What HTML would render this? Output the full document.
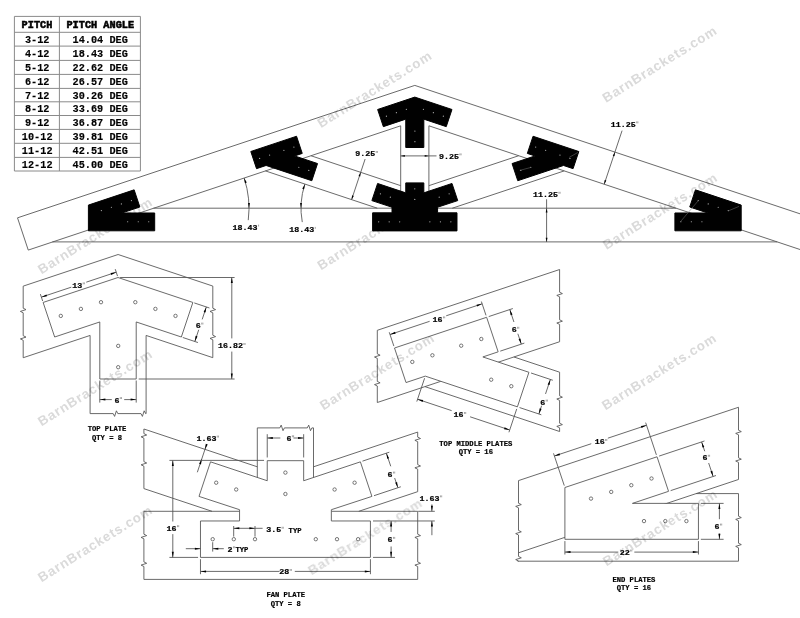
<!DOCTYPE html>
<html><head><meta charset="utf-8"><title>Truss plates</title>
<style>
html,body{margin:0;padding:0;background:#fff;}
body{width:800px;height:618px;overflow:hidden;font-family:"Liberation Sans",sans-serif;}
svg{display:block;}
</style></head><body>
<svg width="800" height="618" viewBox="0 0 800 618">
<rect width="800" height="618" fill="#fff"/>
<g opacity="0.999">
<g>
<path d="M14.4 16.4L140.4 16.4" stroke="#8a8a8a" stroke-width="1" fill="none"/>
<path d="M14.4 32.3L140.4 32.3" stroke="#8a8a8a" stroke-width="1" fill="none"/>
<path d="M14.4 46.1L140.4 46.1" stroke="#8a8a8a" stroke-width="1" fill="none"/>
<path d="M14.4 60.4L140.4 60.4" stroke="#8a8a8a" stroke-width="1" fill="none"/>
<path d="M14.4 74.4L140.4 74.4" stroke="#8a8a8a" stroke-width="1" fill="none"/>
<path d="M14.4 88.4L140.4 88.4" stroke="#8a8a8a" stroke-width="1" fill="none"/>
<path d="M14.4 101.8L140.4 101.8" stroke="#8a8a8a" stroke-width="1" fill="none"/>
<path d="M14.4 115.5L140.4 115.5" stroke="#8a8a8a" stroke-width="1" fill="none"/>
<path d="M14.4 129.4L140.4 129.4" stroke="#8a8a8a" stroke-width="1" fill="none"/>
<path d="M14.4 143.3L140.4 143.3" stroke="#8a8a8a" stroke-width="1" fill="none"/>
<path d="M14.4 157.4L140.4 157.4" stroke="#8a8a8a" stroke-width="1" fill="none"/>
<path d="M14.4 171L140.4 171" stroke="#8a8a8a" stroke-width="1" fill="none"/>
<path d="M14.4 16.4L14.4 171" stroke="#8a8a8a" stroke-width="1" fill="none"/>
<path d="M59.4 16.4L59.4 171" stroke="#8a8a8a" stroke-width="1" fill="none"/>
<path d="M140.4 16.4L140.4 171" stroke="#8a8a8a" stroke-width="1" fill="none"/>
<text transform="translate(21.62 27.7) scale(1 1.08)" font-family="'Liberation Mono', monospace" font-size="10.25" font-weight="bold" fill="#000" stroke="#000" stroke-width="0.55" textLength="30.75" lengthAdjust="spacing" xml:space="preserve">PITCH</text>
<text transform="translate(66.48 27.7) scale(1 1.08)" font-family="'Liberation Mono', monospace" font-size="10.25" font-weight="bold" fill="#000" stroke="#000" stroke-width="0.55" textLength="67.65" lengthAdjust="spacing" xml:space="preserve">PITCH ANGLE</text>
<text transform="translate(24.9 42.85) scale(1 1.08)" font-family="'Liberation Mono', monospace" font-size="10.25" font-weight="bold" fill="#000" stroke="#000" stroke-width="0.15" textLength="24.6" lengthAdjust="spacing" xml:space="preserve">3-12</text>
<text transform="translate(72.53 42.85) scale(1 1.08)" font-family="'Liberation Mono', monospace" font-size="10.25" font-weight="bold" fill="#000" stroke="#000" stroke-width="0.15" textLength="55.35" lengthAdjust="spacing" xml:space="preserve">14.04 DEG</text>
<text transform="translate(24.9 57.15) scale(1 1.08)" font-family="'Liberation Mono', monospace" font-size="10.25" font-weight="bold" fill="#000" stroke="#000" stroke-width="0.15" textLength="24.6" lengthAdjust="spacing" xml:space="preserve">4-12</text>
<text transform="translate(72.53 57.15) scale(1 1.08)" font-family="'Liberation Mono', monospace" font-size="10.25" font-weight="bold" fill="#000" stroke="#000" stroke-width="0.15" textLength="55.35" lengthAdjust="spacing" xml:space="preserve">18.43 DEG</text>
<text transform="translate(24.9 71.15) scale(1 1.08)" font-family="'Liberation Mono', monospace" font-size="10.25" font-weight="bold" fill="#000" stroke="#000" stroke-width="0.15" textLength="24.6" lengthAdjust="spacing" xml:space="preserve">5-12</text>
<text transform="translate(72.53 71.15) scale(1 1.08)" font-family="'Liberation Mono', monospace" font-size="10.25" font-weight="bold" fill="#000" stroke="#000" stroke-width="0.15" textLength="55.35" lengthAdjust="spacing" xml:space="preserve">22.62 DEG</text>
<text transform="translate(24.9 85.15) scale(1 1.08)" font-family="'Liberation Mono', monospace" font-size="10.25" font-weight="bold" fill="#000" stroke="#000" stroke-width="0.15" textLength="24.6" lengthAdjust="spacing" xml:space="preserve">6-12</text>
<text transform="translate(72.53 85.15) scale(1 1.08)" font-family="'Liberation Mono', monospace" font-size="10.25" font-weight="bold" fill="#000" stroke="#000" stroke-width="0.15" textLength="55.35" lengthAdjust="spacing" xml:space="preserve">26.57 DEG</text>
<text transform="translate(24.9 98.55) scale(1 1.08)" font-family="'Liberation Mono', monospace" font-size="10.25" font-weight="bold" fill="#000" stroke="#000" stroke-width="0.15" textLength="24.6" lengthAdjust="spacing" xml:space="preserve">7-12</text>
<text transform="translate(72.53 98.55) scale(1 1.08)" font-family="'Liberation Mono', monospace" font-size="10.25" font-weight="bold" fill="#000" stroke="#000" stroke-width="0.15" textLength="55.35" lengthAdjust="spacing" xml:space="preserve">30.26 DEG</text>
<text transform="translate(24.9 112.25) scale(1 1.08)" font-family="'Liberation Mono', monospace" font-size="10.25" font-weight="bold" fill="#000" stroke="#000" stroke-width="0.15" textLength="24.6" lengthAdjust="spacing" xml:space="preserve">8-12</text>
<text transform="translate(72.53 112.25) scale(1 1.08)" font-family="'Liberation Mono', monospace" font-size="10.25" font-weight="bold" fill="#000" stroke="#000" stroke-width="0.15" textLength="55.35" lengthAdjust="spacing" xml:space="preserve">33.69 DEG</text>
<text transform="translate(24.9 126.15) scale(1 1.08)" font-family="'Liberation Mono', monospace" font-size="10.25" font-weight="bold" fill="#000" stroke="#000" stroke-width="0.15" textLength="24.6" lengthAdjust="spacing" xml:space="preserve">9-12</text>
<text transform="translate(72.53 126.15) scale(1 1.08)" font-family="'Liberation Mono', monospace" font-size="10.25" font-weight="bold" fill="#000" stroke="#000" stroke-width="0.15" textLength="55.35" lengthAdjust="spacing" xml:space="preserve">36.87 DEG</text>
<text transform="translate(21.82 140.05) scale(1 1.08)" font-family="'Liberation Mono', monospace" font-size="10.25" font-weight="bold" fill="#000" stroke="#000" stroke-width="0.15" textLength="30.75" lengthAdjust="spacing" xml:space="preserve">10-12</text>
<text transform="translate(72.53 140.05) scale(1 1.08)" font-family="'Liberation Mono', monospace" font-size="10.25" font-weight="bold" fill="#000" stroke="#000" stroke-width="0.15" textLength="55.35" lengthAdjust="spacing" xml:space="preserve">39.81 DEG</text>
<text transform="translate(21.82 154.15) scale(1 1.08)" font-family="'Liberation Mono', monospace" font-size="10.25" font-weight="bold" fill="#000" stroke="#000" stroke-width="0.15" textLength="30.75" lengthAdjust="spacing" xml:space="preserve">11-12</text>
<text transform="translate(72.53 154.15) scale(1 1.08)" font-family="'Liberation Mono', monospace" font-size="10.25" font-weight="bold" fill="#000" stroke="#000" stroke-width="0.15" textLength="55.35" lengthAdjust="spacing" xml:space="preserve">42.51 DEG</text>
<text transform="translate(21.82 167.75) scale(1 1.08)" font-family="'Liberation Mono', monospace" font-size="10.25" font-weight="bold" fill="#000" stroke="#000" stroke-width="0.15" textLength="30.75" lengthAdjust="spacing" xml:space="preserve">12-12</text>
<text transform="translate(72.53 167.75) scale(1 1.08)" font-family="'Liberation Mono', monospace" font-size="10.25" font-weight="bold" fill="#000" stroke="#000" stroke-width="0.15" textLength="55.35" lengthAdjust="spacing" xml:space="preserve">45.00 DEG</text>
</g>
<g id="truss">
<path d="M28.25 250.09L17.5 217.83L414.8 85.4L806 215.8" stroke="#555555" stroke-width="0.88" fill="none" stroke-linejoin="miter"/>
<path d="M28.25 250.09L400.7 125.8" stroke="#555555" stroke-width="0.88" fill="none" stroke-linejoin="miter"/>
<path d="M428.9 125.8L806 251.5" stroke="#555555" stroke-width="0.88" fill="none" stroke-linejoin="miter"/>
<path d="M52.4 241.9L777.2 241.9" stroke="#555555" stroke-width="0.88" fill="none"/>
<path d="M153.5 208.2L676.1 208.2" stroke="#555555" stroke-width="0.88" fill="none"/>
<path d="M400.7 125.8L400.7 208.2" stroke="#555555" stroke-width="0.88" fill="none"/>
<path d="M428.9 125.8L428.9 208.2" stroke="#555555" stroke-width="0.88" fill="none"/>
<path d="M310.9 155.73L400.7 185.67" stroke="#555555" stroke-width="0.88" fill="none"/>
<path d="M265.4 170.9L377.3 208.2" stroke="#555555" stroke-width="0.88" fill="none"/>
<path d="M518.7 155.73L428.9 185.67" stroke="#555555" stroke-width="0.88" fill="none"/>
<path d="M564.2 170.9L452.3 208.2" stroke="#555555" stroke-width="0.88" fill="none"/>
<path d="M414.8 97.1L377.63 109.49L383.35 126.64L405.76 119.17L405.76 147.49L423.84 147.49L423.84 119.17L446.25 126.64L451.97 109.49Z" fill="#000" stroke="#000" stroke-width="1" stroke-linejoin="miter"/>
<path d="M372.61 230.9L372.61 212.82L392.01 212.82L392.01 207.22L371.88 200.61L377.6 183.46L405.76 192.85L405.76 182.88L423.84 182.88L423.84 192.85L452 183.46L457.72 200.61L437.59 207.22L437.59 212.82L456.99 212.82L456.99 230.9Z" fill="#000" stroke="#000" stroke-width="1" stroke-linejoin="miter"/>
<path d="M250.8 151.5L296.55 136.25L302.26 153.41L294.67 155.94L317.54 163.56L311.83 180.72L266.08 165.47L256.52 168.65Z" fill="#000" stroke="#000" stroke-width="1" stroke-linejoin="miter"/>
<path d="M578.8 151.5L533.05 136.25L527.34 153.41L534.93 155.94L512.06 163.56L517.77 180.72L563.52 165.47L573.08 168.65Z" fill="#000" stroke="#000" stroke-width="1" stroke-linejoin="miter"/>
<path d="M88.4 205.08L134.15 189.83L139.86 206.99L121.93 212.97L154.7 212.97L154.7 230.8L88.4 230.8Z" fill="#000" stroke="#000" stroke-width="1" stroke-linejoin="miter"/>
<path d="M741.2 205.08L695.45 189.83L689.74 206.99L707.67 212.97L674.9 212.97L674.9 230.8L741.2 230.8Z" fill="#000" stroke="#000" stroke-width="1" stroke-linejoin="miter"/>
<circle cx="386.4" cy="116.17" r="0.6" fill="#b8b8b8"/>
<circle cx="396.38" cy="112.69" r="0.6" fill="#b8b8b8"/>
<circle cx="406.36" cy="109.36" r="0.6" fill="#b8b8b8"/>
<circle cx="423.39" cy="109.36" r="0.6" fill="#b8b8b8"/>
<circle cx="433.37" cy="112.69" r="0.6" fill="#b8b8b8"/>
<circle cx="443.35" cy="116.17" r="0.6" fill="#b8b8b8"/>
<circle cx="414.9" cy="131.06" r="0.6" fill="#b8b8b8"/>
<circle cx="414.9" cy="141.64" r="0.6" fill="#b8b8b8"/>
<circle cx="380.42" cy="193.81" r="0.6" fill="#b8b8b8"/>
<circle cx="390.35" cy="197.19" r="0.6" fill="#b8b8b8"/>
<circle cx="414.78" cy="188.8" r="0.6" fill="#b8b8b8"/>
<circle cx="414.78" cy="199.42" r="0.6" fill="#b8b8b8"/>
<circle cx="449.13" cy="193.81" r="0.6" fill="#b8b8b8"/>
<circle cx="439.2" cy="197.19" r="0.6" fill="#b8b8b8"/>
<circle cx="378.68" cy="221.86" r="0.6" fill="#b8b8b8"/>
<circle cx="389.16" cy="221.86" r="0.6" fill="#b8b8b8"/>
<circle cx="399.68" cy="221.86" r="0.6" fill="#b8b8b8"/>
<circle cx="429.87" cy="221.86" r="0.6" fill="#b8b8b8"/>
<circle cx="440.39" cy="221.86" r="0.6" fill="#b8b8b8"/>
<circle cx="450.87" cy="221.86" r="0.6" fill="#b8b8b8"/>
<circle cx="259.64" cy="158.4" r="0.6" fill="#b8b8b8"/>
<circle cx="269.62" cy="155.12" r="0.6" fill="#b8b8b8"/>
<circle cx="283.92" cy="150.36" r="0.6" fill="#b8b8b8"/>
<circle cx="293.9" cy="147.03" r="0.6" fill="#b8b8b8"/>
<circle cx="298.81" cy="167.24" r="0.6" fill="#b8b8b8"/>
<circle cx="308.79" cy="170.47" r="0.6" fill="#b8b8b8"/>
<circle cx="569.96" cy="158.4" r="0.6" fill="#b8b8b8"/>
<circle cx="559.98" cy="155.12" r="0.6" fill="#b8b8b8"/>
<circle cx="545.68" cy="150.36" r="0.6" fill="#b8b8b8"/>
<circle cx="535.7" cy="147.03" r="0.6" fill="#b8b8b8"/>
<circle cx="530.79" cy="167.24" r="0.6" fill="#b8b8b8"/>
<circle cx="520.81" cy="170.47" r="0.6" fill="#b8b8b8"/>
<circle cx="101.36" cy="210.59" r="0.6" fill="#b8b8b8"/>
<circle cx="111.39" cy="207.27" r="0.6" fill="#b8b8b8"/>
<circle cx="121.37" cy="203.94" r="0.6" fill="#b8b8b8"/>
<circle cx="131.4" cy="200.61" r="0.6" fill="#b8b8b8"/>
<circle cx="127.67" cy="221.76" r="0.6" fill="#b8b8b8"/>
<circle cx="138.25" cy="221.76" r="0.6" fill="#b8b8b8"/>
<circle cx="148.72" cy="221.76" r="0.6" fill="#b8b8b8"/>
<circle cx="728.24" cy="210.59" r="0.6" fill="#b8b8b8"/>
<circle cx="718.21" cy="207.27" r="0.6" fill="#b8b8b8"/>
<circle cx="708.23" cy="203.94" r="0.6" fill="#b8b8b8"/>
<circle cx="698.2" cy="200.61" r="0.6" fill="#b8b8b8"/>
<circle cx="701.93" cy="221.76" r="0.6" fill="#b8b8b8"/>
<circle cx="691.35" cy="221.76" r="0.6" fill="#b8b8b8"/>
<circle cx="680.88" cy="221.76" r="0.6" fill="#b8b8b8"/>
<path d="M680.2 222L698 201" stroke="#777" stroke-width="0.5" fill="none"/>
<path d="M728 211L739 206.4" stroke="#777" stroke-width="0.5" fill="none"/>
<path d="M519.8 170.4L530.6 167.5" stroke="#777" stroke-width="0.5" fill="none"/>
<path d="M569.3 157.3L578 152.4" stroke="#777" stroke-width="0.5" fill="none"/>
</g>
<g id="trussdims">
<path d="M248.25 220.17A95.5 95.5 0 0 0 244.1 178" stroke="#555555" stroke-width="0.88" fill="none"/>
<path d="M244.1 178L246.77 182.56L244.99 183.21Z" fill="#000"/>
<path d="M249 208.2L248.05 203L249.95 203Z" fill="#000"/>
<text transform="translate(232.51 230) scale(1 0.93)" font-family="'Liberation Mono', monospace" font-size="8.3" font-weight="bold" fill="#000" stroke="#000" stroke-width="0.25" textLength="24.98" lengthAdjust="spacing">18.43</text>
<path d="M258.59 224.61v1.9" stroke="#6a6a6a" stroke-width="0.6"/>
<path d="M302.28 222.1A76.3 76.3 0 0 1 304.92 184.07" stroke="#555555" stroke-width="0.88" fill="none"/>
<path d="M304.92 184.07L304.03 189.28L302.24 188.63Z" fill="#000"/>
<path d="M301 208.2L300.05 203L301.95 203Z" fill="#000"/>
<text transform="translate(289.21 232.3) scale(1 0.93)" font-family="'Liberation Mono', monospace" font-size="8.3" font-weight="bold" fill="#000" stroke="#000" stroke-width="0.25" textLength="24.98" lengthAdjust="spacing">18.43</text>
<path d="M315.29 226.91v1.9" stroke="#6a6a6a" stroke-width="0.6"/>
<path d="M351.6 199.63L365.13 159.03" stroke="#555555" stroke-width="0.88" fill="none"/>
<path d="M351.6 199.63L352.07 195.36L353.78 195.93Z" fill="#000"/>
<path d="M360.71 172.31L360.23 176.58L358.53 176.01Z" fill="#000"/>
<text transform="translate(355.31 156.4) scale(1 0.93)" font-family="'Liberation Mono', monospace" font-size="8.3" font-weight="bold" fill="#000" stroke="#000" stroke-width="0.25" textLength="19.98" lengthAdjust="spacing">9.25</text>
<path d="M376.19 151.01v1.9M377.39 151.01v1.9" stroke="#6a6a6a" stroke-width="0.6"/>
<path d="M400.7 155.9L436.5 155.9" stroke="#555555" stroke-width="0.88" fill="none"/>
<path d="M400.7 155.9L404.9 155L404.9 156.8Z" fill="#000"/>
<path d="M428.9 155.9L424.7 156.8L424.7 155Z" fill="#000"/>
<text transform="translate(439 158.8) scale(1 0.93)" font-family="'Liberation Mono', monospace" font-size="8.3" font-weight="bold" fill="#000" stroke="#000" stroke-width="0.25" textLength="19.98" lengthAdjust="spacing">9.25</text>
<path d="M459.88 153.41v1.9M461.08 153.41v1.9" stroke="#6a6a6a" stroke-width="0.6"/>
<path d="M604.2 184.23L622.07 130.63" stroke="#555555" stroke-width="0.88" fill="none"/>
<path d="M604.2 184.23L604.67 179.96L606.38 180.53Z" fill="#000"/>
<path d="M614.95 151.98L614.48 156.25L612.77 155.68Z" fill="#000"/>
<text transform="translate(610.81 126.8) scale(1 0.93)" font-family="'Liberation Mono', monospace" font-size="8.3" font-weight="bold" fill="#000" stroke="#000" stroke-width="0.25" textLength="24.98" lengthAdjust="spacing">11.25</text>
<path d="M636.69 121.41v1.9M637.89 121.41v1.9" stroke="#6a6a6a" stroke-width="0.6"/>
<path d="M546.6 199.3L546.6 241.9" stroke="#555555" stroke-width="0.88" fill="none"/>
<path d="M546.6 208.2L547.5 212.4L545.7 212.4Z" fill="#000"/>
<path d="M546.6 241.9L545.7 237.7L547.5 237.7Z" fill="#000"/>
<text transform="translate(533.01 197.2) scale(1 0.93)" font-family="'Liberation Mono', monospace" font-size="8.3" font-weight="bold" fill="#000" stroke="#000" stroke-width="0.25" textLength="24.98" lengthAdjust="spacing">11.25</text>
<path d="M558.89 191.81v1.9M560.09 191.81v1.9" stroke="#6a6a6a" stroke-width="0.6"/>
</g>
<g id="d_top">
<path d="M23.2 286.13L118.1 254.5L212.8 286.07" stroke="#555555" stroke-width="0.88" fill="none" stroke-linejoin="miter"/>
<path d="M23.2 357.73L90.1 335.43" stroke="#555555" stroke-width="0.88" fill="none"/>
<path d="M212.8 357.67L146.1 335.43" stroke="#555555" stroke-width="0.88" fill="none"/>
<path d="M23.2 286.13L23.2 308.2L26 309.6L20.4 311.4L23.2 312.8L23.2 335.7L26 337.1L20.4 338.9L23.2 340.3L23.2 357.73" stroke="#555555" stroke-width="0.88" fill="none" stroke-linejoin="miter"/>
<path d="M212.8 286.07L212.8 308.2L215.6 309.6L210 311.4L212.8 312.8L212.8 335.2L215.6 336.6L210 338.4L212.8 339.8L212.8 357.67" stroke="#555555" stroke-width="0.88" fill="none" stroke-linejoin="miter"/>
<path d="M90.1 335.43L90.1 413.6" stroke="#555555" stroke-width="0.88" fill="none"/>
<path d="M146.1 335.43L146.1 413.6" stroke="#555555" stroke-width="0.88" fill="none"/>
<path d="M90.1 413.6L113.2 413.6L114.6 416.4L116.4 410.8L117.8 413.6L141 413.6L142.4 416.4L144.2 410.8L145.6 413.6L146.1 413.6" stroke="#555555" stroke-width="0.88" fill="none" stroke-linejoin="miter"/>
<path d="M118 277.5L43.14 302.45L54.66 337L99.79 321.96L99.79 379L136.21 379L136.21 321.96L181.34 337L192.86 302.45Z" stroke="#555555" stroke-width="0.88" fill="#fff" stroke-linejoin="miter"/>
<circle cx="60.8" cy="315.9" r="1.7" stroke="#555" stroke-width="0.8" fill="#fff"/>
<circle cx="80.9" cy="308.9" r="1.7" stroke="#555" stroke-width="0.8" fill="#fff"/>
<circle cx="101" cy="302.2" r="1.7" stroke="#555" stroke-width="0.8" fill="#fff"/>
<circle cx="135.3" cy="302.2" r="1.7" stroke="#555" stroke-width="0.8" fill="#fff"/>
<circle cx="155.4" cy="308.9" r="1.7" stroke="#555" stroke-width="0.8" fill="#fff"/>
<circle cx="175.5" cy="315.9" r="1.7" stroke="#555" stroke-width="0.8" fill="#fff"/>
<circle cx="118.2" cy="345.9" r="1.7" stroke="#555" stroke-width="0.8" fill="#fff"/>
<circle cx="118.2" cy="367.2" r="1.7" stroke="#555" stroke-width="0.8" fill="#fff"/>
<path d="M42.67 301.03L40.36 294.11" stroke="#555555" stroke-width="0.88" fill="none"/>
<path d="M117.53 276.08L115.22 269.15" stroke="#555555" stroke-width="0.88" fill="none"/>
<path d="M41.37 297.14L71.31 287.16" stroke="#555555" stroke-width="0.88" fill="none"/>
<path d="M86.28 282.17L116.23 272.19" stroke="#555555" stroke-width="0.88" fill="none"/>
<path d="M41.37 297.14L46.36 294.42L47 296.32Z" fill="#000"/>
<path d="M116.23 272.19L111.23 274.91L110.6 273.01Z" fill="#000"/>
<text transform="translate(72.31 287.8) scale(1 0.93)" font-family="'Liberation Mono', monospace" font-size="8.3" font-weight="bold" fill="#000" stroke="#000" stroke-width="0.25" textLength="9.98" lengthAdjust="spacing">13</text>
<path d="M83.19 282.41v1.9M84.39 282.41v1.9" stroke="#6a6a6a" stroke-width="0.6"/>
<path d="M194.28 302.93L209.46 307.99" stroke="#555555" stroke-width="0.88" fill="none"/>
<path d="M182.77 337.48L197.95 342.54" stroke="#555555" stroke-width="0.88" fill="none"/>
<path d="M206.33 306.94L202.19 319.38" stroke="#555555" stroke-width="0.88" fill="none"/>
<path d="M198.73 329.75L194.81 341.5" stroke="#555555" stroke-width="0.88" fill="none"/>
<path d="M206.33 306.94L205.51 312.57L203.61 311.94Z" fill="#000"/>
<path d="M194.81 341.5L195.64 335.87L197.53 336.5Z" fill="#000"/>
<text transform="translate(195.81 328) scale(1 0.93)" font-family="'Liberation Mono', monospace" font-size="8.3" font-weight="bold" fill="#000" stroke="#000" stroke-width="0.25" textLength="4.98" lengthAdjust="spacing">6</text>
<path d="M201.69 322.61v1.9M202.89 322.61v1.9" stroke="#6a6a6a" stroke-width="0.6"/>
<path d="M120.1 277.5L234.6 277.5" stroke="#555555" stroke-width="0.88" fill="none"/>
<path d="M138.71 379L234.6 379" stroke="#555555" stroke-width="0.88" fill="none"/>
<path d="M231.8 277.5L231.8 338.4" stroke="#555555" stroke-width="0.88" fill="none"/>
<path d="M231.8 351.59L231.8 379" stroke="#555555" stroke-width="0.88" fill="none"/>
<path d="M231.8 277.5L232.8 283.1L230.8 283.1Z" fill="#000"/>
<path d="M231.8 379L230.8 373.4L232.8 373.4Z" fill="#000"/>
<text transform="translate(218.01 348.4) scale(1 0.93)" font-family="'Liberation Mono', monospace" font-size="8.3" font-weight="bold" fill="#000" stroke="#000" stroke-width="0.25" textLength="24.98" lengthAdjust="spacing">16.82</text>
<path d="M243.89 343.01v1.9M245.09 343.01v1.9" stroke="#6a6a6a" stroke-width="0.6"/>
<path d="M99.79 380.5L99.79 402.6" stroke="#555555" stroke-width="0.88" fill="none"/>
<path d="M136.21 380.5L136.21 402.6" stroke="#555555" stroke-width="0.88" fill="none"/>
<path d="M99.79 399.6L111.81 399.6" stroke="#555555" stroke-width="0.88" fill="none"/>
<path d="M124.19 399.6L136.21 399.6" stroke="#555555" stroke-width="0.88" fill="none"/>
<path d="M99.79 399.6L105.39 398.6L105.39 400.6Z" fill="#000"/>
<path d="M136.21 399.6L130.61 400.6L130.61 398.6Z" fill="#000"/>
<text transform="translate(114.41 402.5) scale(1 0.93)" font-family="'Liberation Mono', monospace" font-size="8.3" font-weight="bold" fill="#000" stroke="#000" stroke-width="0.25" textLength="4.98" lengthAdjust="spacing">6</text>
<path d="M120.29 397.11v1.9M121.49 397.11v1.9" stroke="#6a6a6a" stroke-width="0.6"/>
<text transform="translate(107 431) scale(1 1.1)" font-family="'Liberation Mono', monospace" font-size="7.17" font-weight="bold" text-anchor="middle" fill="#000" stroke="#000" stroke-width="0.2" xml:space="preserve">TOP PLATE</text>
<text transform="translate(107 439.8) scale(1 1.1)" font-family="'Liberation Mono', monospace" font-size="7.17" font-weight="bold" text-anchor="middle" fill="#000" stroke="#000" stroke-width="0.2" xml:space="preserve">QTY = 8</text>
</g>
<g id="d_fan">
<path d="M143.9 429L257.3 466.8" stroke="#555555" stroke-width="0.88" fill="none"/>
<path d="M143.9 488.6L212 511.3" stroke="#555555" stroke-width="0.88" fill="none"/>
<path d="M143.9 429L143.9 433.6L146.7 435L141.1 436.8L143.9 438.2L143.9 461.6L146.7 463L141.1 464.8L143.9 466.2L143.9 488.6" stroke="#555555" stroke-width="0.88" fill="none" stroke-linejoin="miter"/>
<path d="M417.7 432.07L313.5 466.8" stroke="#555555" stroke-width="0.88" fill="none"/>
<path d="M417.7 491.67L358.8 511.3" stroke="#555555" stroke-width="0.88" fill="none"/>
<path d="M417.7 432.07L417.7 437.1L420.5 438.5L414.9 440.3L417.7 441.7L417.7 464.6L420.5 466L414.9 467.8L417.7 469.2L417.7 491.67" stroke="#555555" stroke-width="0.88" fill="none" stroke-linejoin="miter"/>
<path d="M143.9 511.3L239.55 511.3" stroke="#555555" stroke-width="0.88" fill="none"/>
<path d="M331.35 511.3L417.7 511.3" stroke="#555555" stroke-width="0.88" fill="none"/>
<path d="M143.9 579.4L417.7 579.4" stroke="#555555" stroke-width="0.88" fill="none"/>
<path d="M143.9 511.3L143.9 534.2L146.7 535.6L141.1 537.4L143.9 538.8L143.9 561.9L146.7 563.3L141.1 565.1L143.9 566.5L143.9 579.4" stroke="#555555" stroke-width="0.88" fill="none" stroke-linejoin="miter"/>
<path d="M417.7 511.3L417.7 534.2L420.5 535.6L414.9 537.4L417.7 538.8L417.7 561.9L420.5 563.3L414.9 565.1L417.7 566.5L417.7 579.4" stroke="#555555" stroke-width="0.88" fill="none" stroke-linejoin="miter"/>
<path d="M257.3 427.9L257.3 480" stroke="#555555" stroke-width="0.88" fill="none"/>
<path d="M313.5 427.9L313.5 480" stroke="#555555" stroke-width="0.88" fill="none"/>
<path d="M257.3 427.9L279.8 427.9L281.2 425.1L283 430.7L284.4 427.9L307.3 427.9L308.7 425.1L310.5 430.7L311.9 427.9L313.5 427.9" stroke="#555555" stroke-width="0.88" fill="none" stroke-linejoin="miter"/>
<path d="M200.47 557.4L200.47 520.98L239.55 520.98L239.55 509.7L199 496.4L210.52 461.85L267.24 480.76L267.24 460.68L303.66 460.68L303.66 480.76L360.38 461.85L371.9 496.4L331.35 509.7L331.35 520.98L370.43 520.98L370.43 557.4Z" stroke="#555555" stroke-width="0.88" fill="#fff" stroke-linejoin="miter"/>
<circle cx="216.2" cy="482.7" r="1.7" stroke="#555" stroke-width="0.8" fill="#fff"/>
<circle cx="236.2" cy="489.5" r="1.7" stroke="#555" stroke-width="0.8" fill="#fff"/>
<circle cx="285.4" cy="472.6" r="1.7" stroke="#555" stroke-width="0.8" fill="#fff"/>
<circle cx="285.4" cy="494" r="1.7" stroke="#555" stroke-width="0.8" fill="#fff"/>
<circle cx="354.6" cy="482.7" r="1.7" stroke="#555" stroke-width="0.8" fill="#fff"/>
<circle cx="334.6" cy="489.5" r="1.7" stroke="#555" stroke-width="0.8" fill="#fff"/>
<circle cx="212.7" cy="539.2" r="1.7" stroke="#555" stroke-width="0.8" fill="#fff"/>
<circle cx="233.8" cy="539.2" r="1.7" stroke="#555" stroke-width="0.8" fill="#fff"/>
<circle cx="255" cy="539.2" r="1.7" stroke="#555" stroke-width="0.8" fill="#fff"/>
<circle cx="315.8" cy="539.2" r="1.7" stroke="#555" stroke-width="0.8" fill="#fff"/>
<circle cx="337" cy="539.2" r="1.7" stroke="#555" stroke-width="0.8" fill="#fff"/>
<circle cx="358.1" cy="539.2" r="1.7" stroke="#555" stroke-width="0.8" fill="#fff"/>
<path d="M206.7 444.2L197.34 472.28" stroke="#555555" stroke-width="0.88" fill="none"/>
<path d="M204.96 449.42L205.78 443.79L207.68 444.42Z" fill="#000"/>
<path d="M201.83 458.8L201.01 464.43L199.11 463.8Z" fill="#000"/>
<text transform="translate(196.4 441) scale(1 0.93)" font-family="'Liberation Mono', monospace" font-size="8.3" font-weight="bold" fill="#000" stroke="#000" stroke-width="0.25" textLength="19.98" lengthAdjust="spacing">1.63</text>
<path d="M217.28 435.61v1.9M218.48 435.61v1.9" stroke="#6a6a6a" stroke-width="0.6"/>
<path d="M267.24 434.2L267.24 457.48" stroke="#555555" stroke-width="0.88" fill="none"/>
<path d="M303.66 434.2L303.66 457.48" stroke="#555555" stroke-width="0.88" fill="none"/>
<path d="M267.24 438L280.35 438" stroke="#555555" stroke-width="0.88" fill="none"/>
<path d="M293.46 438L303.66 438" stroke="#555555" stroke-width="0.88" fill="none"/>
<path d="M267.24 438L272.84 437L272.84 439Z" fill="#000"/>
<path d="M303.66 438L298.06 439L298.06 437Z" fill="#000"/>
<text transform="translate(286.5 440.7) scale(1 0.93)" font-family="'Liberation Mono', monospace" font-size="8.3" font-weight="bold" fill="#000" stroke="#000" stroke-width="0.25" textLength="4.98" lengthAdjust="spacing">6</text>
<path d="M292.38 435.31v1.9M293.58 435.31v1.9" stroke="#6a6a6a" stroke-width="0.6"/>
<path d="M169.4 460.38L264.04 460.38" stroke="#555555" stroke-width="0.88" fill="none"/>
<path d="M169.4 557.4L198.07 557.4" stroke="#555555" stroke-width="0.88" fill="none"/>
<path d="M172.8 460.38L172.8 521.5" stroke="#555555" stroke-width="0.88" fill="none"/>
<path d="M172.8 534.12L172.8 557.4" stroke="#555555" stroke-width="0.88" fill="none"/>
<path d="M172.8 460.38L173.8 465.98L171.8 465.98Z" fill="#000"/>
<path d="M172.8 557.4L171.8 551.8L173.8 551.8Z" fill="#000"/>
<text transform="translate(166.61 530.6) scale(1 0.93)" font-family="'Liberation Mono', monospace" font-size="8.3" font-weight="bold" fill="#000" stroke="#000" stroke-width="0.25" textLength="9.98" lengthAdjust="spacing">16</text>
<path d="M177.49 525.21v1.9M178.69 525.21v1.9" stroke="#6a6a6a" stroke-width="0.6"/>
<path d="M233.7 526L233.7 536.6" stroke="#555555" stroke-width="0.88" fill="none"/>
<path d="M255 526L255 536.6" stroke="#555555" stroke-width="0.88" fill="none"/>
<path d="M233.7 528.3L262.6 528.3" stroke="#555555" stroke-width="0.88" fill="none"/>
<path d="M233.7 528.3L239.3 527.3L239.3 529.3Z" fill="#000"/>
<path d="M255 528.3L249.4 529.3L249.4 527.3Z" fill="#000"/>
<text transform="translate(266.2 532.2) scale(1 0.93)" font-family="'Liberation Mono', monospace" font-size="8.3" font-weight="bold" fill="#000" stroke="#000" stroke-width="0.25" textLength="14.98" lengthAdjust="spacing">3.5</text>
<path d="M282.08 526.81v1.9M283.28 526.81v1.9" stroke="#6a6a6a" stroke-width="0.6"/>
<text transform="translate(288.6 533) scale(1 1.1)" font-family="'Liberation Mono', monospace" font-size="7.17" font-weight="bold" text-anchor="start" fill="#000" stroke="#000" stroke-width="0.2" xml:space="preserve">TYP</text>
<path d="M185.8 548.7L200.47 548.7" stroke="#555555" stroke-width="0.88" fill="none"/>
<path d="M200.47 548.7L194.87 549.7L194.87 547.7Z" fill="#000"/>
<path d="M212.7 548.7L223.8 548.7" stroke="#555555" stroke-width="0.88" fill="none"/>
<path d="M212.7 548.7L218.3 547.7L218.3 549.7Z" fill="#000"/>
<path d="M212.7 542.2L212.7 551.6" stroke="#555555" stroke-width="0.88" fill="none"/>
<text transform="translate(227.6 551.7) scale(1 0.93)" font-family="'Liberation Mono', monospace" font-size="8.3" font-weight="bold" fill="#000" stroke="#000" stroke-width="0.25" textLength="4.98" lengthAdjust="spacing">2</text>
<path d="M233.48 546.31v1.9M234.68 546.31v1.9" stroke="#6a6a6a" stroke-width="0.6"/>
<text transform="translate(235.4 552) scale(1 1.1)" font-family="'Liberation Mono', monospace" font-size="7.17" font-weight="bold" text-anchor="start" fill="#000" stroke="#000" stroke-width="0.2" xml:space="preserve">TYP</text>
<path d="M200.47 559.2L200.47 574.2" stroke="#555555" stroke-width="0.88" fill="none"/>
<path d="M370.43 559.2L370.43 574.2" stroke="#555555" stroke-width="0.88" fill="none"/>
<path d="M200.47 571.4L279.5 571.4" stroke="#555555" stroke-width="0.88" fill="none"/>
<path d="M294.8 571.4L370.43 571.4" stroke="#555555" stroke-width="0.88" fill="none"/>
<path d="M200.47 571.4L206.07 570.4L206.07 572.4Z" fill="#000"/>
<path d="M370.43 571.4L364.83 572.4L364.83 570.4Z" fill="#000"/>
<text transform="translate(279.31 574.4) scale(1 0.93)" font-family="'Liberation Mono', monospace" font-size="8.3" font-weight="bold" fill="#000" stroke="#000" stroke-width="0.25" textLength="9.98" lengthAdjust="spacing">28</text>
<path d="M290.19 569.01v1.9M291.39 569.01v1.9" stroke="#6a6a6a" stroke-width="0.6"/>
<path d="M373.03 520.98L434.8 520.98" stroke="#555555" stroke-width="0.88" fill="none"/>
<path d="M373.03 557.4L395 557.4" stroke="#555555" stroke-width="0.88" fill="none"/>
<path d="M391.1 520.98L391.1 531.91" stroke="#555555" stroke-width="0.88" fill="none"/>
<path d="M391.1 546.47L391.1 557.4" stroke="#555555" stroke-width="0.88" fill="none"/>
<path d="M391.1 520.98L392.1 526.58L390.1 526.58Z" fill="#000"/>
<path d="M391.1 557.4L390.1 551.8L392.1 551.8Z" fill="#000"/>
<text transform="translate(387.61 542.3) scale(1 0.93)" font-family="'Liberation Mono', monospace" font-size="8.3" font-weight="bold" fill="#000" stroke="#000" stroke-width="0.25" textLength="4.98" lengthAdjust="spacing">6</text>
<path d="M393.49 536.91v1.9M394.69 536.91v1.9" stroke="#6a6a6a" stroke-width="0.6"/>
<path d="M362.47 461.15L389.32 452.2" stroke="#555555" stroke-width="0.88" fill="none"/>
<path d="M373.99 495.7L400.83 486.76" stroke="#555555" stroke-width="0.88" fill="none"/>
<path d="M386.38 453.18L390.75 466.31" stroke="#555555" stroke-width="0.88" fill="none"/>
<path d="M394.67 478.06L397.89 487.74" stroke="#555555" stroke-width="0.88" fill="none"/>
<path d="M386.38 453.18L389.1 458.18L387.2 458.81Z" fill="#000"/>
<path d="M397.89 487.74L395.17 482.74L397.07 482.11Z" fill="#000"/>
<text transform="translate(387.61 477) scale(1 0.93)" font-family="'Liberation Mono', monospace" font-size="8.3" font-weight="bold" fill="#000" stroke="#000" stroke-width="0.25" textLength="4.98" lengthAdjust="spacing">6</text>
<path d="M393.49 471.61v1.9M394.69 471.61v1.9" stroke="#6a6a6a" stroke-width="0.6"/>
<path d="M418.2 511.3L434.8 511.3" stroke="#555555" stroke-width="0.88" fill="none"/>
<path d="M431.9 504.4L431.9 511.3" stroke="#555555" stroke-width="0.88" fill="none"/>
<path d="M431.9 520.98L431.9 535.2" stroke="#555555" stroke-width="0.88" fill="none"/>
<path d="M431.9 511.3L430.9 505.7L432.9 505.7Z" fill="#000"/>
<path d="M431.9 520.98L432.9 526.58L430.9 526.58Z" fill="#000"/>
<text transform="translate(419.6 500.8) scale(1 0.93)" font-family="'Liberation Mono', monospace" font-size="8.3" font-weight="bold" fill="#000" stroke="#000" stroke-width="0.25" textLength="19.98" lengthAdjust="spacing">1.63</text>
<path d="M440.48 495.41v1.9M441.68 495.41v1.9" stroke="#6a6a6a" stroke-width="0.6"/>
<text transform="translate(285.7 597.3) scale(1 1.1)" font-family="'Liberation Mono', monospace" font-size="7.17" font-weight="bold" text-anchor="middle" fill="#000" stroke="#000" stroke-width="0.2" xml:space="preserve">FAN PLATE</text>
<text transform="translate(285.7 606.1) scale(1 1.1)" font-family="'Liberation Mono', monospace" font-size="7.17" font-weight="bold" text-anchor="middle" fill="#000" stroke="#000" stroke-width="0.2" xml:space="preserve">QTY = 8</text>
</g>
<g id="d_mid" transform="translate(0.5 0.6)">
<path d="M376.8 329.7L559.1 268.93" stroke="#555555" stroke-width="0.88" fill="none"/>
<path d="M376.8 401.9L559.1 341.13" stroke="#555555" stroke-width="0.88" fill="none"/>
<path d="M513.4 356.37L559.1 371.6" stroke="#555555" stroke-width="0.88" fill="none"/>
<path d="M559.1 430.9L424.45 386.02" stroke="#555555" stroke-width="0.88" fill="none"/>
<path d="M376.8 329.7L376.8 353.2L379.6 354.6L374 356.4L376.8 357.8L376.8 380.8L379.6 382.2L374 384L376.8 385.4L376.8 401.9" stroke="#555555" stroke-width="0.88" fill="none" stroke-linejoin="miter"/>
<path d="M559.1 268.93L559.1 291.6L561.9 293L556.3 294.8L559.1 296.2L559.1 319.2L561.9 320.6L556.3 322.4L559.1 323.8L559.1 341.13" stroke="#555555" stroke-width="0.88" fill="none" stroke-linejoin="miter"/>
<path d="M559.1 371.6L559.1 395.2L561.9 396.6L556.3 398.4L559.1 399.8L559.1 422.6L561.9 424L556.3 425.8L559.1 427.2L559.1 430.9" stroke="#555555" stroke-width="0.88" fill="none" stroke-linejoin="miter"/>
<path d="M394 347.4L486.14 316.69L497.65 351.24L482.36 356.34L528.43 371.69L516.91 406.24L424.78 375.53L405.52 381.95Z" stroke="#555555" stroke-width="0.88" fill="#fff" stroke-linejoin="miter"/>
<circle cx="411.8" cy="361.3" r="1.7" stroke="#555" stroke-width="0.8" fill="#fff"/>
<circle cx="431.9" cy="354.7" r="1.7" stroke="#555" stroke-width="0.8" fill="#fff"/>
<circle cx="460.7" cy="345.1" r="1.7" stroke="#555" stroke-width="0.8" fill="#fff"/>
<circle cx="480.8" cy="338.4" r="1.7" stroke="#555" stroke-width="0.8" fill="#fff"/>
<circle cx="490.7" cy="379.1" r="1.7" stroke="#555" stroke-width="0.8" fill="#fff"/>
<circle cx="510.8" cy="385.6" r="1.7" stroke="#555" stroke-width="0.8" fill="#fff"/>
<path d="M393.37 345.5L388.75 331.65" stroke="#555555" stroke-width="0.88" fill="none"/>
<path d="M485.5 314.79L480.89 300.94" stroke="#555555" stroke-width="0.88" fill="none"/>
<path d="M389.51 333.93L429.13 320.72" stroke="#555555" stroke-width="0.88" fill="none"/>
<path d="M445.71 315.19L481.65 303.22" stroke="#555555" stroke-width="0.88" fill="none"/>
<path d="M389.51 333.93L394.51 331.21L395.14 333.11Z" fill="#000"/>
<path d="M481.65 303.22L476.65 305.94L476.02 304.04Z" fill="#000"/>
<text transform="translate(432.11 321.2) scale(1 0.93)" font-family="'Liberation Mono', monospace" font-size="8.3" font-weight="bold" fill="#000" stroke="#000" stroke-width="0.25" textLength="9.98" lengthAdjust="spacing">16</text>
<path d="M442.99 315.81v1.9M444.19 315.81v1.9" stroke="#6a6a6a" stroke-width="0.6"/>
<path d="M488.22 315.99L512.32 307.96" stroke="#555555" stroke-width="0.88" fill="none"/>
<path d="M499.74 350.54L523.84 342.51" stroke="#555555" stroke-width="0.88" fill="none"/>
<path d="M509.28 308.97L513.43 321.41" stroke="#555555" stroke-width="0.88" fill="none"/>
<path d="M517.35 333.16L520.8 343.52" stroke="#555555" stroke-width="0.88" fill="none"/>
<path d="M509.28 308.97L512 313.97L510.11 314.6Z" fill="#000"/>
<path d="M520.8 343.52L518.08 338.53L519.98 337.89Z" fill="#000"/>
<text transform="translate(511.21 331.6) scale(1 0.93)" font-family="'Liberation Mono', monospace" font-size="8.3" font-weight="bold" fill="#000" stroke="#000" stroke-width="0.25" textLength="4.98" lengthAdjust="spacing">6</text>
<path d="M517.09 326.21v1.9M518.29 326.21v1.9" stroke="#6a6a6a" stroke-width="0.6"/>
<path d="M530.52 372.39L552.34 379.66" stroke="#555555" stroke-width="0.88" fill="none"/>
<path d="M519 406.94L540.82 414.21" stroke="#555555" stroke-width="0.88" fill="none"/>
<path d="M549.87 378.84L545.03 393.35" stroke="#555555" stroke-width="0.88" fill="none"/>
<path d="M541.12 405.1L538.35 413.39" stroke="#555555" stroke-width="0.88" fill="none"/>
<path d="M549.87 378.84L549.05 384.47L547.15 383.84Z" fill="#000"/>
<path d="M538.35 413.39L539.17 407.76L541.07 408.39Z" fill="#000"/>
<text transform="translate(539.81 404.4) scale(1 0.93)" font-family="'Liberation Mono', monospace" font-size="8.3" font-weight="bold" fill="#000" stroke="#000" stroke-width="0.25" textLength="4.98" lengthAdjust="spacing">6</text>
<path d="M545.69 399.01v1.9M546.89 399.01v1.9" stroke="#6a6a6a" stroke-width="0.6"/>
<path d="M424.08 377.62L416.3 400.96" stroke="#555555" stroke-width="0.88" fill="none"/>
<path d="M516.22 408.33L508.44 431.67" stroke="#555555" stroke-width="0.88" fill="none"/>
<path d="M417.06 398.68L451.15 410.04" stroke="#555555" stroke-width="0.88" fill="none"/>
<path d="M469.58 416.19L509.2 429.39" stroke="#555555" stroke-width="0.88" fill="none"/>
<path d="M417.06 398.68L422.69 399.5L422.06 401.4Z" fill="#000"/>
<path d="M509.2 429.39L503.57 428.57L504.2 426.67Z" fill="#000"/>
<text transform="translate(453.11 416.8) scale(1 0.93)" font-family="'Liberation Mono', monospace" font-size="8.3" font-weight="bold" fill="#000" stroke="#000" stroke-width="0.25" textLength="9.98" lengthAdjust="spacing">16</text>
<path d="M463.99 411.41v1.9M465.19 411.41v1.9" stroke="#6a6a6a" stroke-width="0.6"/>
<text transform="translate(475.3 445) scale(1 1.1)" font-family="'Liberation Mono', monospace" font-size="7.17" font-weight="bold" text-anchor="middle" fill="#000" stroke="#000" stroke-width="0.2" xml:space="preserve">TOP MIDDLE PLATES</text>
<text transform="translate(475.3 453.8) scale(1 1.1)" font-family="'Liberation Mono', monospace" font-size="7.17" font-weight="bold" text-anchor="middle" fill="#000" stroke="#000" stroke-width="0.2" xml:space="preserve">QTY = 16</text>
</g>
<g id="d_end">
<path d="M518.5 480.6L738.5 407.27" stroke="#555555" stroke-width="0.88" fill="none"/>
<path d="M518.5 552.8L738.5 479.47" stroke="#555555" stroke-width="0.88" fill="none"/>
<path d="M696.1 493.6L738.5 493.6" stroke="#555555" stroke-width="0.88" fill="none"/>
<path d="M517.5 561.2L738.5 561.2" stroke="#555555" stroke-width="0.88" fill="none"/>
<path d="M518.5 480.6L518.5 503.2L521.3 504.6L515.7 506.4L518.5 507.8L518.5 530.4L521.3 531.8L515.7 533.6L518.5 535L518.5 556.4L521.3 557.8L515.7 559.6L518.5 561L518.5 561.2" stroke="#555555" stroke-width="0.88" fill="none" stroke-linejoin="miter"/>
<path d="M738.5 407.27L738.5 430.2L741.3 431.6L735.7 433.4L738.5 434.8L738.5 457.8L741.3 459.2L735.7 461L738.5 462.4L738.5 479.47" stroke="#555555" stroke-width="0.88" fill="none" stroke-linejoin="miter"/>
<path d="M738.5 493.6L738.5 516.2L741.3 517.6L735.7 519.4L738.5 520.8L738.5 543.2L741.3 544.6L735.7 546.4L738.5 547.8L738.5 561.2" stroke="#555555" stroke-width="0.88" fill="none" stroke-linejoin="miter"/>
<path d="M564.9 487.5L657.04 456.79L668.55 491.34L632.43 503.38L698.44 503.38L698.44 539.3L564.9 539.3Z" stroke="#555555" stroke-width="0.88" fill="#fff" stroke-linejoin="miter"/>
<circle cx="591" cy="498.6" r="1.7" stroke="#555" stroke-width="0.8" fill="#fff"/>
<circle cx="611.2" cy="491.9" r="1.7" stroke="#555" stroke-width="0.8" fill="#fff"/>
<circle cx="631.3" cy="485.2" r="1.7" stroke="#555" stroke-width="0.8" fill="#fff"/>
<circle cx="651.5" cy="478.5" r="1.7" stroke="#555" stroke-width="0.8" fill="#fff"/>
<circle cx="644" cy="521.1" r="1.7" stroke="#555" stroke-width="0.8" fill="#fff"/>
<circle cx="665.3" cy="521.1" r="1.7" stroke="#555" stroke-width="0.8" fill="#fff"/>
<circle cx="686.4" cy="521.1" r="1.7" stroke="#555" stroke-width="0.8" fill="#fff"/>
<path d="M564.27 485.6L553.52 453.35" stroke="#555555" stroke-width="0.88" fill="none"/>
<path d="M656.4 454.89L645.65 422.64" stroke="#555555" stroke-width="0.88" fill="none"/>
<path d="M554.4 456L591.26 443.72" stroke="#555555" stroke-width="0.88" fill="none"/>
<path d="M607.84 438.19L646.54 425.29" stroke="#555555" stroke-width="0.88" fill="none"/>
<path d="M554.4 456L559.4 453.28L560.03 455.18Z" fill="#000"/>
<path d="M646.54 425.29L641.54 428.01L640.91 426.11Z" fill="#000"/>
<text transform="translate(594.71 444.4) scale(1 0.93)" font-family="'Liberation Mono', monospace" font-size="8.3" font-weight="bold" fill="#000" stroke="#000" stroke-width="0.25" textLength="9.98" lengthAdjust="spacing">16</text>
<path d="M605.59 439.01v1.9M606.79 439.01v1.9" stroke="#6a6a6a" stroke-width="0.6"/>
<path d="M659.12 456.09L704.47 440.98" stroke="#555555" stroke-width="0.88" fill="none"/>
<path d="M670.64 490.64L715.99 475.53" stroke="#555555" stroke-width="0.88" fill="none"/>
<path d="M701.62 441.93L704.73 451.25" stroke="#555555" stroke-width="0.88" fill="none"/>
<path d="M708.65 463L713.14 476.48" stroke="#555555" stroke-width="0.88" fill="none"/>
<path d="M701.62 441.93L704.34 446.92L702.45 447.55Z" fill="#000"/>
<path d="M713.14 476.48L710.42 471.48L712.32 470.85Z" fill="#000"/>
<text transform="translate(702.51 460.2) scale(1 0.93)" font-family="'Liberation Mono', monospace" font-size="8.3" font-weight="bold" fill="#000" stroke="#000" stroke-width="0.25" textLength="4.98" lengthAdjust="spacing">6</text>
<path d="M708.39 454.81v1.9M709.59 454.81v1.9" stroke="#6a6a6a" stroke-width="0.6"/>
<path d="M700.84 503.38L723.6 503.38" stroke="#555555" stroke-width="0.88" fill="none"/>
<path d="M700.84 539.3L723.6 539.3" stroke="#555555" stroke-width="0.88" fill="none"/>
<path d="M719.4 503.38L719.4 519.18" stroke="#555555" stroke-width="0.88" fill="none"/>
<path d="M719.4 533.55L719.4 539.3" stroke="#555555" stroke-width="0.88" fill="none"/>
<path d="M719.4 503.38L720.4 508.98L718.4 508.98Z" fill="#000"/>
<path d="M719.4 539.3L718.4 533.7L720.4 533.7Z" fill="#000"/>
<text transform="translate(714.61 529) scale(1 0.93)" font-family="'Liberation Mono', monospace" font-size="8.3" font-weight="bold" fill="#000" stroke="#000" stroke-width="0.25" textLength="4.98" lengthAdjust="spacing">6</text>
<path d="M720.49 523.61v1.9M721.69 523.61v1.9" stroke="#6a6a6a" stroke-width="0.6"/>
<path d="M564.9 541.1L564.9 554.5" stroke="#555555" stroke-width="0.88" fill="none"/>
<path d="M698.44 541.1L698.44 554.5" stroke="#555555" stroke-width="0.88" fill="none"/>
<path d="M564.9 552.1L618.32 552.1" stroke="#555555" stroke-width="0.88" fill="none"/>
<path d="M634.34 552.1L698.44 552.1" stroke="#555555" stroke-width="0.88" fill="none"/>
<path d="M564.9 552.1L570.5 551.1L570.5 553.1Z" fill="#000"/>
<path d="M698.44 552.1L692.84 553.1L692.84 551.1Z" fill="#000"/>
<text transform="translate(619.71 555) scale(1 0.93)" font-family="'Liberation Mono', monospace" font-size="8.3" font-weight="bold" fill="#000" stroke="#000" stroke-width="0.25" textLength="9.98" lengthAdjust="spacing">22</text>
<path d="M630.59 549.61v1.9M631.79 549.61v1.9" stroke="#6a6a6a" stroke-width="0.6"/>
<text transform="translate(633.9 581.5) scale(1 1.1)" font-family="'Liberation Mono', monospace" font-size="7.17" font-weight="bold" text-anchor="middle" fill="#000" stroke="#000" stroke-width="0.2" xml:space="preserve">END PLATES</text>
<text transform="translate(633.9 590.3) scale(1 1.1)" font-family="'Liberation Mono', monospace" font-size="7.17" font-weight="bold" text-anchor="middle" fill="#000" stroke="#000" stroke-width="0.2" xml:space="preserve">QTY = 16</text>
</g>
<g id="wm" style="mix-blend-mode:multiply">
<text transform="translate(41.5 274.5) rotate(-32)" font-family="'Liberation Sans', sans-serif" font-size="13.4" font-weight="bold" fill="#dadada" textLength="131.5" lengthAdjust="spacing">BarnBrackets.com</text>
<text transform="translate(321 128.2) rotate(-32)" font-family="'Liberation Sans', sans-serif" font-size="13.4" font-weight="bold" fill="#dadada" textLength="131.5" lengthAdjust="spacing">BarnBrackets.com</text>
<text transform="translate(606 103) rotate(-32)" font-family="'Liberation Sans', sans-serif" font-size="13.4" font-weight="bold" fill="#dadada" textLength="131.5" lengthAdjust="spacing">BarnBrackets.com</text>
<text transform="translate(321 270.5) rotate(-32)" font-family="'Liberation Sans', sans-serif" font-size="13.4" font-weight="bold" fill="#dadada" textLength="131.5" lengthAdjust="spacing">BarnBrackets.com</text>
<text transform="translate(606.5 250) rotate(-32)" font-family="'Liberation Sans', sans-serif" font-size="13.4" font-weight="bold" fill="#dadada" textLength="131.5" lengthAdjust="spacing">BarnBrackets.com</text>
<text transform="translate(41.5 426.5) rotate(-32)" font-family="'Liberation Sans', sans-serif" font-size="13.4" font-weight="bold" fill="#dadada" textLength="131.5" lengthAdjust="spacing">BarnBrackets.com</text>
<text transform="translate(323.5 410.5) rotate(-32)" font-family="'Liberation Sans', sans-serif" font-size="13.4" font-weight="bold" fill="#dadada" textLength="131.5" lengthAdjust="spacing">BarnBrackets.com</text>
<text transform="translate(605.5 410.5) rotate(-32)" font-family="'Liberation Sans', sans-serif" font-size="13.4" font-weight="bold" fill="#dadada" textLength="131.5" lengthAdjust="spacing">BarnBrackets.com</text>
<text transform="translate(41.5 582.5) rotate(-32)" font-family="'Liberation Sans', sans-serif" font-size="13.4" font-weight="bold" fill="#dadada" textLength="131.5" lengthAdjust="spacing">BarnBrackets.com</text>
<text transform="translate(311.5 575.5) rotate(-32)" font-family="'Liberation Sans', sans-serif" font-size="13.4" font-weight="bold" fill="#dadada" textLength="131.5" lengthAdjust="spacing">BarnBrackets.com</text>
<text transform="translate(606.5 566.5) rotate(-32)" font-family="'Liberation Sans', sans-serif" font-size="13.4" font-weight="bold" fill="#dadada" textLength="131.5" lengthAdjust="spacing">BarnBrackets.com</text>
</g>
</g>
</svg>
</body></html>
